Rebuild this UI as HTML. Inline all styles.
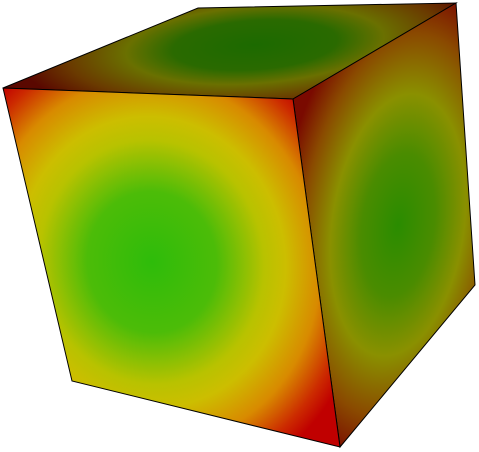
<!DOCTYPE html>
<html><head><style>html,body{margin:0;padding:0;background:#fff;}svg{display:block}</style></head>
<body>
<svg width="479" height="452" viewBox="0 0 479 452">
<defs>
<radialGradient id="gFront" gradientUnits="userSpaceOnUse" cx="0" cy="0" r="1" gradientTransform="translate(152,262) rotate(-10) scale(215,235)">
<stop offset="0" stop-color="#2ebc0a"/>
<stop offset="0.3" stop-color="#4cbc08"/>
<stop offset="0.52" stop-color="#b8c200"/>
<stop offset="0.62" stop-color="#ccbe00"/>
<stop offset="0.78" stop-color="#d88a00"/>
<stop offset="0.92" stop-color="#cc2a00"/>
<stop offset="1" stop-color="#c00000"/>
</radialGradient>
<radialGradient id="gTop" gradientUnits="userSpaceOnUse" cx="0" cy="0" r="1" gradientTransform="translate(255,45) rotate(-4) scale(235,70)">
<stop offset="0" stop-color="#1c6a00"/>
<stop offset="0.35" stop-color="#2a6a00"/>
<stop offset="0.55" stop-color="#6a7000"/>
<stop offset="0.8" stop-color="#6a3a00"/>
<stop offset="1" stop-color="#5a0800"/>
</radialGradient>
<radialGradient id="gRight" gradientUnits="userSpaceOnUse" cx="0" cy="0" r="1" gradientTransform="translate(398,225) rotate(8) scale(120,240)">
<stop offset="0" stop-color="#2a8c00"/>
<stop offset="0.3" stop-color="#4a8c00"/>
<stop offset="0.55" stop-color="#8a9000"/>
<stop offset="0.8" stop-color="#8a4a00"/>
<stop offset="1" stop-color="#7a0a00"/>
</radialGradient>
</defs>
<polygon points="3,88 198,8 456,3 293,99" fill="url(#gTop)" stroke="#000" stroke-width="1"/>
<polygon points="293,99 456,3 475,285 340,447" fill="url(#gRight)" stroke="#000" stroke-width="1"/>
<polygon points="3,88 293,99 340,447 72,381" fill="url(#gFront)" stroke="#000" stroke-width="1"/>
</svg>
</body></html>
